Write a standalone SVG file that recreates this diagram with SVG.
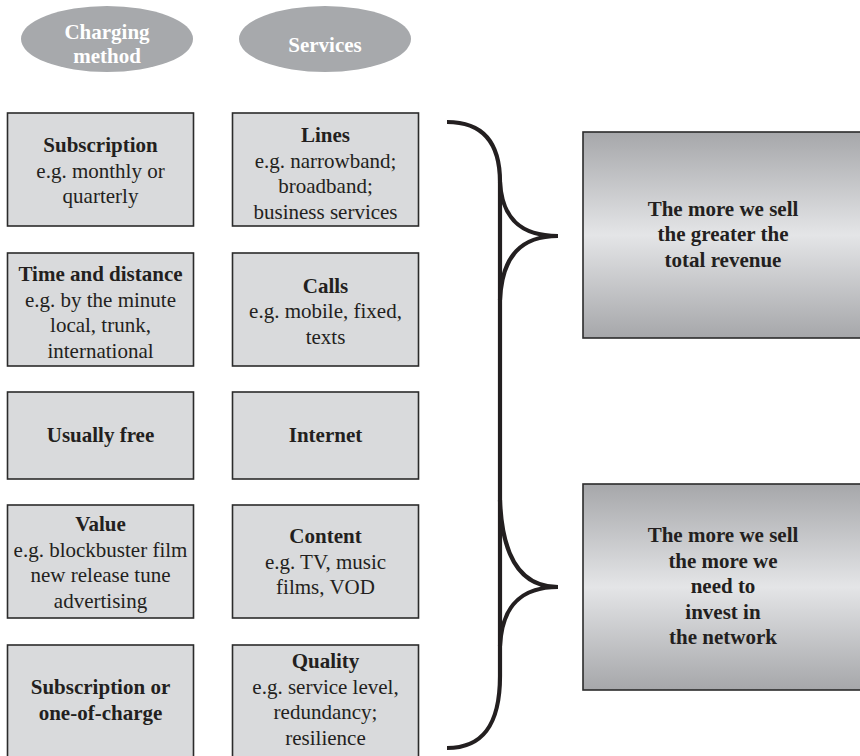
<svg xmlns="http://www.w3.org/2000/svg" width="860" height="756" viewBox="0 0 860 756">
  <style>
    .box { fill: #d9dadc; stroke: #2b2b2b; stroke-width: 1.6; }
    .oval { fill: #a7a9ac; }
    .grad { fill: url(#metal); stroke: #2b2b2b; stroke-width: 1.6; }
    text { font-family: "Liberation Serif", "Times New Roman", serif; font-size: 21px; fill: #231f20; text-anchor: middle; }
    .b { font-weight: bold; }
    .w { fill: #ffffff; font-weight: bold; }
    .brace { fill: none; stroke: #231f20; stroke-width: 4.2; stroke-linecap: butt; }
  </style>
  <defs>
    <linearGradient id="metal" x1="0" y1="0" x2="0" y2="1">
      <stop offset="0" stop-color="#a6a7aa"/>
      <stop offset="0.5" stop-color="#e4e5e7"/>
      <stop offset="1" stop-color="#a6a7aa"/>
    </linearGradient>
  </defs>

  <!-- column headers -->
  <g id="hdr-charging">
    <ellipse class="oval" cx="107" cy="39" rx="86" ry="33"/>
    <text class="w" x="107" y="38.5">Charging</text>
    <text class="w" x="107" y="63">method</text>
  </g>
  <g id="hdr-services">
    <ellipse class="oval" cx="325" cy="39" rx="86" ry="33"/>
    <text class="w" x="325" y="52">Services</text>
  </g>

  <!-- charging method column -->
  <g id="charge-subscription">
    <rect class="box" x="7.5" y="113" width="186" height="113"/>
    <text class="b" x="100.5" y="152">Subscription</text>
    <text x="100.5" y="177.5">e.g. monthly or</text>
    <text x="100.5" y="203">quarterly</text>
  </g>
  <g id="charge-time">
    <rect class="box" x="7.5" y="253" width="186" height="113"/>
    <text class="b" x="100.5" y="281">Time and distance</text>
    <text x="100.5" y="306.5">e.g. by the minute</text>
    <text x="100.5" y="332">local, trunk,</text>
    <text x="100.5" y="357.5">international</text>
  </g>
  <g id="charge-free">
    <rect class="box" x="7.5" y="392" width="186" height="87"/>
    <text class="b" x="100.5" y="442">Usually free</text>
  </g>
  <g id="charge-value">
    <rect class="box" x="7.5" y="505" width="186" height="113"/>
    <text class="b" x="100.5" y="531">Value</text>
    <text x="100.5" y="556.5">e.g. blockbuster film</text>
    <text x="100.5" y="582">new release tune</text>
    <text x="100.5" y="607.5">advertising</text>
  </g>
  <g id="charge-oneoff">
    <rect class="box" x="7.5" y="645" width="186" height="120"/>
    <text class="b" x="100.5" y="694">Subscription or</text>
    <text class="b" x="100.5" y="719.5">one-of-charge</text>
  </g>

  <!-- services column -->
  <g id="svc-lines">
    <rect class="box" x="232.5" y="113" width="186" height="113"/>
    <text class="b" x="325.5" y="142">Lines</text>
    <text x="325.5" y="167.5">e.g. narrowband;</text>
    <text x="325.5" y="193">broadband;</text>
    <text x="325.5" y="218.5">business services</text>
  </g>
  <g id="svc-calls">
    <rect class="box" x="232.5" y="253" width="186" height="113"/>
    <text class="b" x="325.5" y="292.5">Calls</text>
    <text x="325.5" y="318">e.g. mobile, fixed,</text>
    <text x="325.5" y="343.5">texts</text>
  </g>
  <g id="svc-internet">
    <rect class="box" x="232.5" y="392" width="186" height="87"/>
    <text class="b" x="325.5" y="442">Internet</text>
  </g>
  <g id="svc-content">
    <rect class="box" x="232.5" y="505" width="186" height="113"/>
    <text class="b" x="325.5" y="543">Content</text>
    <text x="325.5" y="568.5">e.g. TV, music</text>
    <text x="325.5" y="594">films, VOD</text>
  </g>
  <g id="svc-quality">
    <rect class="box" x="232.5" y="645" width="186" height="120"/>
    <text class="b" x="325.5" y="668">Quality</text>
    <text x="325.5" y="693.5">e.g. service level,</text>
    <text x="325.5" y="719">redundancy;</text>
    <text x="325.5" y="744.5">resilience</text>
  </g>

  <!-- outcome boxes -->
  <g id="outcome-revenue">
    <rect class="grad" x="583" y="132" width="290" height="206"/>
    <text class="b" x="723" y="215.5">The more we sell</text>
    <text class="b" x="723" y="241">the greater the</text>
    <text class="b" x="723" y="266.5">total revenue</text>
  </g>
  <g id="outcome-invest">
    <rect class="grad" x="583" y="484" width="290" height="206"/>
    <text class="b" x="723" y="542">The more we sell</text>
    <text class="b" x="723" y="567.5">the more we</text>
    <text class="b" x="723" y="593">need to</text>
    <text class="b" x="723" y="618.5">invest in</text>
    <text class="b" x="723" y="644">the network</text>
  </g>

  <!-- grouping brace -->
  <g id="connectors">
    <path class="brace" d="M447,122 C482,122 500,142 500,182 L500,676 C500,726 482,748 447,748"/>
    <path class="brace" d="M500,182 C502,218 520,236 558,236 C522,236 502,255 500,300"/>
    <path class="brace" d="M500,500 C502,556 520,587 558,587 C522,587 502,605 500,646"/>
  </g>
</svg>
